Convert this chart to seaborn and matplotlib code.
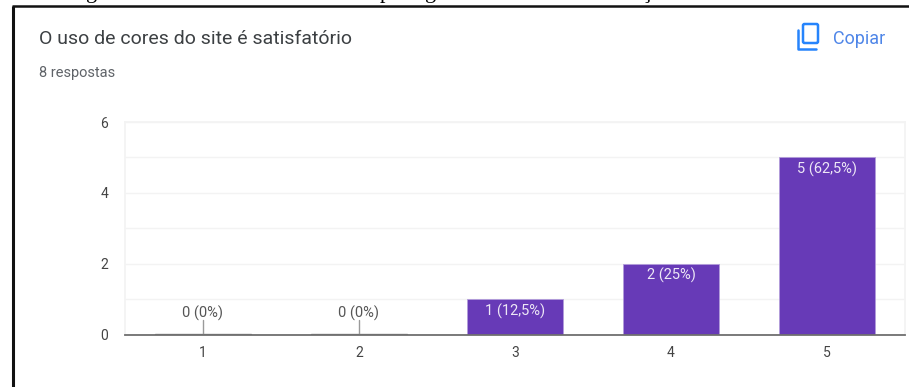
import matplotlib
matplotlib.use("Agg")
import matplotlib.pyplot as plt
import pandas as pd
import seaborn as sns
from matplotlib.patches import FancyBboxPatch

categories = ["1", "2", "3", "4", "5"]
counts = [0, 0, 1, 2, 5]
labels = ["0 (0%)", "0 (0%)", "1 (12,5%)", "2 (25%)", "5 (62,5%)"]
title = "O uso de cores do site é satisfatório"
subtitle = "8 respostas"
# bottoms of the cropped caption above the screenshot
caption_bits = [("g", 92), ("p", 385), ("g", 431), ("ç", 646)]

W, H = 909, 387
PURPLE = "#673ab7"
BLUE = "#2684fc"

sns.set_theme(style="white")
plt.rcParams["font.family"] = ["Roboto", "DejaVu Sans"]

df = pd.DataFrame({"resposta": categories, "n": counts})

fig = plt.figure(figsize=(W / 100, H / 100), dpi=100, facecolor="white")

# overlay in pixel coords for the screenshot frame, header and icon
bg = fig.add_axes([0, 0, 1, 1])
bg.set_xlim(0, W)
bg.set_ylim(H, 0)
bg.axis("off")
bg.plot([13, 13], [6, H], color="#111111", lw=2.2, solid_capstyle="butt")
bg.plot([12, W], [6, 6], color="#111111", lw=1.8, solid_capstyle="butt")
for ch, x in caption_bits:
    bg.text(x, -2, ch, family="Liberation Serif", fontsize=16, color="black",
            ha="center", va="baseline", clip_on=True)
bg.text(39, 39, title, fontsize=14, color="#3c4043", va="center")
bg.text(39, 73, subtitle, fontsize=10.5, color="#5f6368", va="center")
bg.text(833, 38.5, "Copiar", fontsize=13, color="#4f86e8", va="center")
bg.add_patch(FancyBboxPatch((803, 24), 15, 19, boxstyle="round,pad=0,rounding_size=1.5",
                            fill=False, ec=BLUE, lw=1.8))
bg.plot([798, 798, 816], [30, 48.5, 48.5], color=BLUE, lw=1.8)

ax = fig.add_axes([125 / W, 1 - 334.5 / H, 780 / W, 212.5 / H])
ax.patch.set_alpha(0)
sns.barplot(data=df, x="resposta", y="n", order=categories, color=PURPLE, saturation=1,
            width=0.615, edgecolor="#b39ddb", linewidth=0.6, ax=ax, zorder=3)
ax.set_xlim(-0.5, 4.5)
ax.set_ylim(0, 6)
ax.set_xlabel("")
ax.set_ylabel("")
ax.set_yticks([0, 2, 4, 6])
ax.set_yticks([1, 3, 5], minor=True)
ax.grid(axis="y", which="both", color="#f3f3f3", lw=1, zorder=0)
ax.tick_params(axis="both", which="both", length=0, labelsize=10, labelcolor="#444444")
ax.tick_params(axis="x", pad=8)
ax.tick_params(axis="y", pad=12)
for side in ["top", "right", "left"]:
    ax.spines[side].set_color("#f3f3f3")
ax.spines["bottom"].set_color("#6f6f6f")
ax.spines["bottom"].set_linewidth(1.3)
ax.spines["bottom"].set_zorder(5)

for i, (n, lab) in enumerate(zip(counts, labels)):
    if n == 0:
        ax.plot([i - 0.3075, i + 0.3075], [0.015, 0.015], color="#8a8a8a", lw=1, zorder=4)
        ax.plot([i, i], [0, 0.4], color="#9a9a9a", lw=1, zorder=4)
        ax.annotate(lab, (i, 0.4), xytext=(0, -0.5), textcoords="offset points", ha="center",
                    va="bottom", fontsize=10.5, color="#555555", zorder=6)
    else:
        ax.annotate(lab, (i, n), xytext=(0, -3.2), textcoords="offset points", ha="center",
                    va="top", fontsize=10.5, color="#ede7f6", zorder=6)

fig.savefig("out.png", dpi=100)
